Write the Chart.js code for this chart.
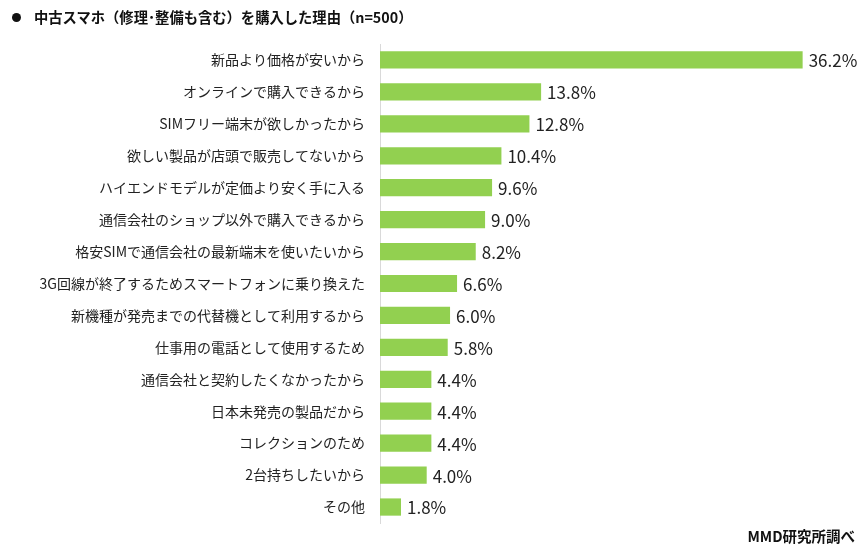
<!DOCTYPE html>
<html lang="ja">
<head>
<meta charset="utf-8">
<script src="https://cdn.jsdelivr.net/npm/chart.js@4/dist/chart.umd.min.js"></script>
<style>
  html, body { margin: 0; padding: 0; background: #fff; }
  .wrap { position: relative; width: 866px; height: 553px; font-family: "Noto Sans CJK JP", "Noto Sans", sans-serif; }
  .title { position: absolute; left: 12px; top: 6px; font-size: 14.3px; font-weight: bold; color: #111; white-space: nowrap; }
  .title .dot { display: inline-block; width: 9px; height: 9px; border-radius: 50%; background: #111; margin-right: 13px; vertical-align: 1px; }
  .source { position: absolute; right: 11px; top: 525px; font-size: 14.5px; font-weight: bold; color: #111; }
  canvas { position: absolute; left: 0; top: 0; }
</style>
</head>
<body>
<div class="wrap">
  <canvas id="chart" width="866" height="553"></canvas>
  <div class="title"><span class="dot"></span>中古スマホ（修理･整備も含む）を購入した理由（n=500）</div>
  <div class="source">MMD研究所調べ</div>
</div>
<script>
const categories = [
  '新品より価格が安いから',
  'オンラインで購入できるから',
  'SIMフリー端末が欲しかったから',
  '欲しい製品が店頭で販売してないから',
  'ハイエンドモデルが定価より安く手に入る',
  '通信会社のショップ以外で購入できるから',
  '格安SIMで通信会社の最新端末を使いたいから',
  '3G回線が終了するためスマートフォンに乗り換えた',
  '新機種が発売までの代替機として利用するから',
  '仕事用の電話として使用するため',
  '通信会社と契約したくなかったから',
  '日本未発売の製品だから',
  'コレクションのため',
  '2台持ちしたいから',
  'その他'
];

const values = [36.2, 13.8, 12.8, 10.4, 9.6, 9.0, 8.2, 6.6, 6.0, 5.8, 4.4, 4.4, 4.4, 4.0, 1.8];

const BAR_COLOR = '#92d050';
const FONT = '"Noto Sans CJK JP", "Noto Sans", sans-serif';

const valueLabels = {
  id: 'valueLabels',
  afterDatasetsDraw(chart) {
    const ctx = chart.ctx;
    const meta = chart.getDatasetMeta(0);
    ctx.save();
    ctx.font = '17px ' + FONT;
    ctx.fillStyle = '#222';
    ctx.textAlign = 'left';
    ctx.textBaseline = 'middle';
    meta.data.forEach((bar, i) => {
      ctx.fillText(values[i].toFixed(1) + '%', bar.x + 6, bar.y + 1);
    });
    ctx.restore();
  }
};

new Chart(document.getElementById('chart'), {
  type: 'bar',
  data: {
    labels: categories,
    datasets: [{
      data: values,
      backgroundColor: BAR_COLOR,
      borderWidth: 0,
      barPercentage: 0.54,
      categoryPercentage: 1.0
    }]
  },
  options: {
    indexAxis: 'y',
    responsive: false,
    animation: false,
    layout: { padding: { top: 44, bottom: 30, left: 0, right: 19 } },
    plugins: {
      legend: { display: false },
      tooltip: { enabled: false }
    },
    scales: {
      x: {
        display: false,
        min: 0,
        max: 40
      },
      y: {
        afterFit(scale) { scale.width = 380; },
        grid: { display: false, drawTicks: false },
        border: { display: true, color: '#d9d9d9', width: 1 },
        ticks: {
          padding: 15,
          color: '#222',
          font: { size: 14, family: FONT }
        }
      }
    }
  },
  plugins: [valueLabels]
});
</script>
</body>
</html>
